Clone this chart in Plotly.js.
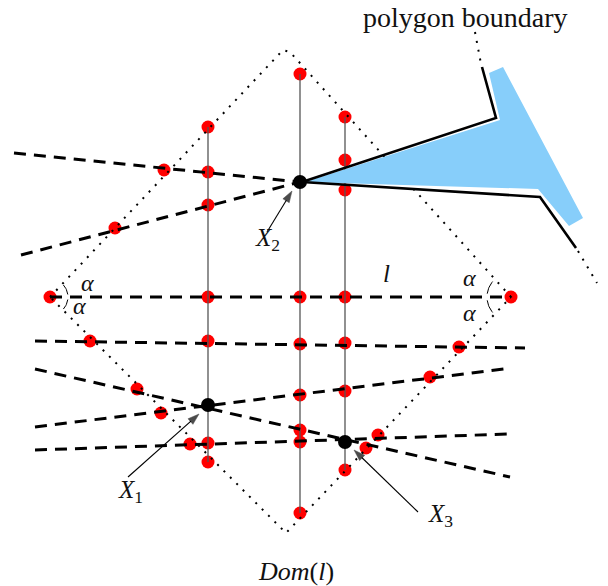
<!DOCTYPE html>
<html><head><meta charset="utf-8">
<script src="https://cdn.plot.ly/plotly-3.0.1.min.js"></script>
<style>html,body{margin:0;padding:0;background:#fff}#plot{width:608px;height:586px}</style>
</head><body><div id="plot"></div>
<script>
// ---- diagram data (pixel-like coordinate system, y grows downward) ----
const vertX = [208, 300, 345];
const vertTop = [127, 74, 117];
const vertBot = [462, 513, 470];

const dashX0 = [50, 35, 35, 35, 35, 14, 21];
const dashY0 = [297, 341, 369, 427, 450, 153, 255];
const dashX1 = [511, 525, 510, 504, 508, 300, 300];
const dashY1 = [297, 348, 477, 369, 434, 182, 182];

const domX = [50, 283, 290, 511, 286, 50];
const domY = [297, 50, 52, 297, 533, 297];

const boundUpperX = [482, 496, 302];
const boundUpperY = [67, 118, 182];
const boundLowerX = [302, 540, 576];
const boundLowerY = [182, 197, 248];
const boundDotAX = [475, 481], boundDotAY = [32, 64];
const boundDotBX = [578, 597], boundDotBY = [251, 283];

const blueX = [305, 500, 489, 503, 583, 569, 538, 305];
const blueY = [182, 120, 73, 67, 218, 226, 189, 182];

const redX = [208,208,208,208,208,208,208, 300,300,300,300,300,300,300, 345,345,345,345,345,345,345,
              164,115,50,90,137,161,190, 511,459,430,378,366];
const redY = [127,172,205,297,341,443,462, 74,297,344,395,430,442,513, 117,160,190,297,343,391,470,
              170,228,297,341,389,413,444, 297,347,377,435,448];

const ptX = [208, 300, 345];
const ptY = [405, 182, 442];
const ptLabels = ['<i>X</i><sub>1</sub>', '<i>X</i><sub>2</sub>', '<i>X</i><sub>3</sub>'];
const labelX = [130, 267, 440];
const labelY = [491, 239, 515];
const arrowTailX = [128, 267, 418];
const arrowTailY = [477, 232, 512];
const arrowTipX = [199, 292, 354];
const arrowTipY = [414, 191, 450];

const alphaX = [87, 79, 469, 469];
const alphaY = [283, 306, 278, 313];
const arcCX = [50, 50, 511, 511];
const arcCY = [297, 297, 297, 297];
const arcR = [18, 18, 24, 24];
const arcA0 = [8, -8, 172, 188];
const arcA1 = [42, -42, 140, 220];

// ---- build traces ----
const traces = [];
traces.push({x: redX, y: redY, mode: 'markers', type: 'scatter',
  marker: {color: '#ff0000', size: 13}, hoverinfo: 'skip'});

for (let i = 0; i < vertX.length; i++) {
  traces.push({x: [vertX[i], vertX[i]], y: [vertTop[i], vertBot[i]], mode: 'lines',
    line: {color: '#555', width: 1.3}, hoverinfo: 'skip'});
}
const dotted = {color: '#000', width: 2, dash: '2px,7px'};
traces.push({x: domX, y: domY, mode: 'lines', line: dotted, hoverinfo: 'skip'});
traces.push({x: boundDotAX, y: boundDotAY, mode: 'lines', line: dotted, hoverinfo: 'skip'});
traces.push({x: boundDotBX, y: boundDotBY, mode: 'lines', line: dotted, hoverinfo: 'skip'});

traces.push({x: blueX, y: blueY, mode: 'lines', fill: 'toself', fillcolor: '#87cefa',
  line: {width: 0, color: '#87cefa'}, hoverinfo: 'skip'});
traces.push({x: boundUpperX, y: boundUpperY, mode: 'lines', line: {color: '#000', width: 2.6}, hoverinfo: 'skip'});
traces.push({x: boundLowerX, y: boundLowerY, mode: 'lines', line: {color: '#000', width: 2.6}, hoverinfo: 'skip'});

for (let i = 0; i < dashX0.length; i++) {
  traces.push({x: [dashX0[i], dashX1[i]], y: [dashY0[i], dashY1[i]], mode: 'lines',
    line: {color: '#000', width: 3, dash: '12px,8px'}, hoverinfo: 'skip'});
}
for (let i = 0; i < arcCX.length; i++) {
  const ax = [], ay = [];
  for (let k = 0; k <= 12; k++) {
    const t = (arcA0[i] + (arcA1[i] - arcA0[i]) * k / 12) * Math.PI / 180;
    ax.push(arcCX[i] + arcR[i] * Math.cos(t));
    ay.push(arcCY[i] - arcR[i] * Math.sin(t));
  }
  traces.push({x: ax, y: ay, mode: 'lines', line: {color: '#000', width: 1}, hoverinfo: 'skip'});
}
// arrows from labels to points
for (let i = 0; i < ptX.length; i++) {
  traces.push({x: [arrowTailX[i], arrowTipX[i]], y: [arrowTailY[i], arrowTipY[i]], mode: 'lines+markers',
    line: {color: '#000', width: 1.1},
    marker: {symbol: ['circle', 'arrow'], size: [0, 12], angleref: 'previous', color: '#000',
             line: {width: 0.5, color: '#000'}},
    hoverinfo: 'skip'});
}
traces.push({x: ptX, y: ptY, mode: 'markers', marker: {color: '#000', size: 14}, hoverinfo: 'skip'});

const serif = 'Liberation Serif';
const annotations = [];
for (let i = 0; i < ptX.length; i++) {
  annotations.push({x: labelX[i], y: labelY[i], xref: 'x', yref: 'y', text: ptLabels[i],
    showarrow: false, font: {family: serif, size: 25, color: '#111'}});
}
for (let i = 0; i < alphaX.length; i++) {
  annotations.push({x: alphaX[i], y: alphaY[i], xref: 'x', yref: 'y', text: '<i>α</i>',
    showarrow: false, font: {family: serif, size: 24, color: '#111'}});
}
annotations.push({x: 386, y: 273, xref: 'x', yref: 'y', text: '<i>l</i>', showarrow: false,
  font: {family: serif, size: 25, color: '#111'}});
annotations.push({x: 296, y: 571, xref: 'x', yref: 'y', text: '<i>Dom</i>(<i>l</i>)', showarrow: false,
  font: {family: serif, size: 26, color: '#111'}});
annotations.push({x: 465, y: 17, xref: 'x', yref: 'y', text: 'polygon boundary', showarrow: false,
  font: {family: serif, size: 28, color: '#111'}});

const layout = {
  width: 608, height: 586,
  margin: {l: 0, r: 0, t: 0, b: 0},
  paper_bgcolor: '#fff', plot_bgcolor: '#fff',
  showlegend: false,
  font: {family: serif},
  xaxis: {range: [0, 608], visible: false, fixedrange: true},
  yaxis: {range: [586, 0], visible: false, fixedrange: true},
  annotations: annotations
};
Plotly.newPlot('plot', traces, layout, {staticPlot: true});
</script>
</body></html>
